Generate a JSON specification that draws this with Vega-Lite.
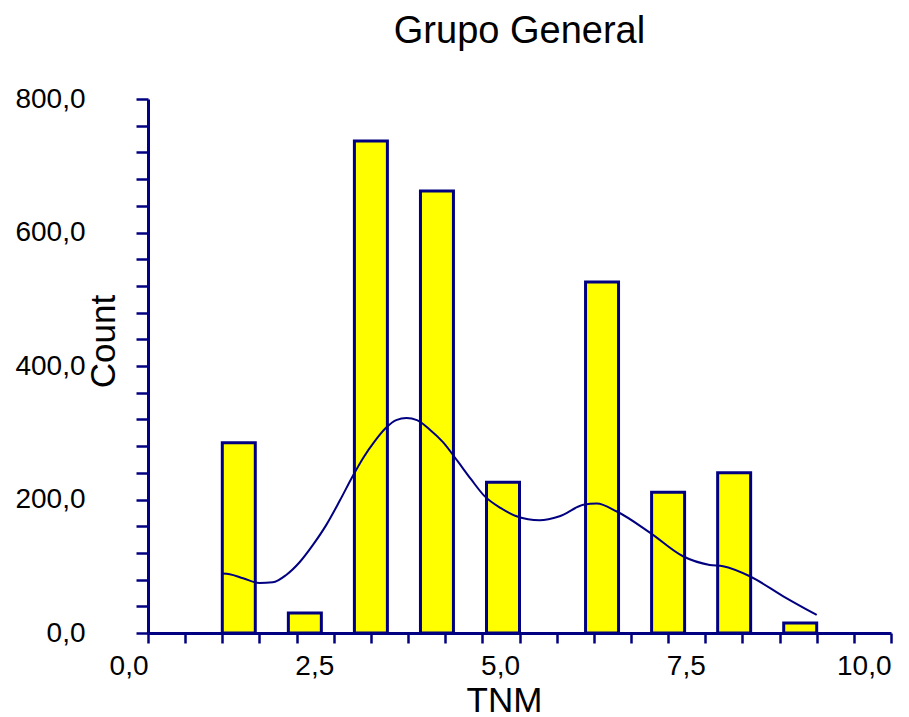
{
  "$schema": "https://vega.github.io/schema/vega-lite/v6.json",
  "width": 743,
  "height": 534,
  "autosize": {"type": "none"},
  "padding": {"left": 148, "top": 99, "right": 18, "bottom": 84},
  "background": "white",
  "title": {
    "text": "Grupo General",
    "font": "Liberation Sans",
    "fontSize": 38,
    "fontWeight": "normal",
    "color": "#000000",
    "anchor": "middle",
    "frame": "group",
    "baseline": "alphabetic",
    "offset": 4
  },
  "config": {
    "view": {"stroke": null},
    "axis": {
      "grid": false,
      "domainColor": "#000080",
      "tickColor": "#000080",
      "domainWidth": 3,
      "tickWidth": 2.5,
      "labelFont": "Liberation Sans",
      "labelFontSize": 28,
      "labelColor": "#000000",
      "titleFont": "Liberation Sans",
      "titleFontSize": 35,
      "titleFontWeight": "normal",
      "titleColor": "#000000",
      "labelOverlap": false,
      "labelFlush": false
    }
  },
  "datasets": {
    "bars": [
      {"bin_start": 1.0, "bin_end": 1.444, "count": 285},
      {"bin_start": 1.889, "bin_end": 2.333, "count": 30},
      {"bin_start": 2.778, "bin_end": 3.222, "count": 737},
      {"bin_start": 3.667, "bin_end": 4.111, "count": 662},
      {"bin_start": 4.556, "bin_end": 5.0, "count": 226},
      {"bin_start": 5.889, "bin_end": 6.333, "count": 526},
      {"bin_start": 6.778, "bin_end": 7.222, "count": 211},
      {"bin_start": 7.667, "bin_end": 8.111, "count": 240},
      {"bin_start": 8.556, "bin_end": 9.0, "count": 15}
    ],
    "curve": [
      {"tnm": 1.0, "density": 89},
      {"tnm": 1.1, "density": 88},
      {"tnm": 1.28, "density": 82},
      {"tnm": 1.5, "density": 75},
      {"tnm": 1.68, "density": 76},
      {"tnm": 1.86, "density": 87},
      {"tnm": 2.04, "density": 106},
      {"tnm": 2.22, "density": 132},
      {"tnm": 2.4, "density": 162},
      {"tnm": 2.58, "density": 198},
      {"tnm": 2.76, "density": 236},
      {"tnm": 2.9, "density": 263},
      {"tnm": 3.05, "density": 287},
      {"tnm": 3.2, "density": 307},
      {"tnm": 3.34, "density": 319},
      {"tnm": 3.48, "density": 322},
      {"tnm": 3.62, "density": 319},
      {"tnm": 3.79, "density": 305},
      {"tnm": 3.97, "density": 286},
      {"tnm": 4.17, "density": 257},
      {"tnm": 4.35, "density": 230},
      {"tnm": 4.53, "density": 205},
      {"tnm": 4.75, "density": 187},
      {"tnm": 4.96, "density": 175},
      {"tnm": 5.27, "density": 169},
      {"tnm": 5.54, "density": 175},
      {"tnm": 5.86, "density": 192},
      {"tnm": 6.04, "density": 194},
      {"tnm": 6.31, "density": 182},
      {"tnm": 6.76, "density": 150},
      {"tnm": 7.2, "density": 115},
      {"tnm": 7.56, "density": 102},
      {"tnm": 7.74, "density": 100},
      {"tnm": 8.1, "density": 85},
      {"tnm": 8.55, "density": 55},
      {"tnm": 9.0, "density": 27}
    ]
  },
  "layer": [
    {
      "data": {"name": "bars"},
      "mark": {"type": "bar", "fill": "#ffff00", "stroke": "#000080", "strokeWidth": 3},
      "encoding": {
        "x": {
          "field": "bin_start",
          "type": "quantitative",
          "scale": {"domain": [0, 10], "nice": false, "zero": false},
          "axis": {
            "title": "TNM",
            "values": [0, 0.5, 1, 1.5, 2, 2.5, 3, 3.5, 4, 4.5, 5, 5.5, 6, 6.5, 7, 7.5, 8, 8.5, 9, 9.5, 10],
            "tickCount": 100,
            "labelExpr": "datum.value % 2.5 === 0 ? replace(format(datum.value, '.1f'), '.', ',') : ''",
            "labelOverlap": false,
            "tickSize": 10,
            "labelPadding": 31,
            "labelAlign": "right",
            "labelBaseline": "alphabetic",
            "labelDx": 3,
            "titleX": 356,
            "titleY": 78,
            "titleAlign": "center",
            "titleBaseline": "alphabetic"
          }
        },
        "x2": {"field": "bin_end"},
        "y": {
          "field": "count",
          "type": "quantitative",
          "scale": {"domain": [0, 800], "nice": false},
          "axis": {
            "title": "Count",
            "values": [0, 40, 80, 120, 160, 200, 240, 280, 320, 360, 400, 440, 480, 520, 560, 600, 640, 680, 720, 760, 800],
            "tickCount": 100,
            "labelExpr": "datum.value % 200 === 0 ? replace(format(datum.value, '.1f'), '.', ',') : ''",
            "labelOverlap": false,
            "tickSize": 12,
            "labelPadding": 51,
            "labelAlign": "right",
            "labelBaseline": "middle",
            "labelDy": -4,
            "titleX": -34,
            "titleY": 242,
            "titleAngle": -90,
            "titleAlign": "center",
            "titleBaseline": "alphabetic"
          }
        },
        "y2": {"datum": 0}
      }
    },
    {
      "data": {"name": "curve"},
      "mark": {"type": "line", "color": "#000080", "strokeWidth": 2, "interpolate": "monotone"},
      "encoding": {
        "x": {"field": "tnm", "type": "quantitative"},
        "y": {"field": "density", "type": "quantitative"}
      }
    }
  ]
}
